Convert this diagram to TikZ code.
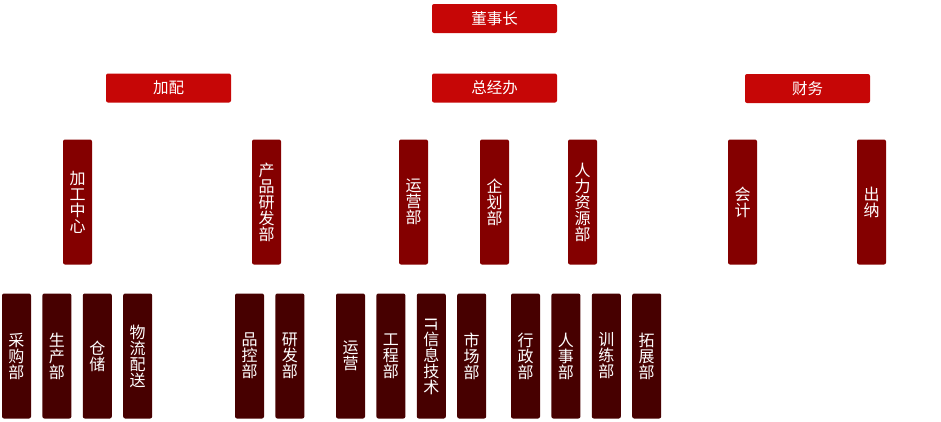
\documentclass[tikz,border=0pt]{standalone}
\usepackage{fontspec}
\setmainfont{Noto Sans CJK SC}
\usetikzlibrary{positioning}
\definecolor{TopRed}{HTML}{C60606}
\definecolor{MidRed}{HTML}{840000}
\definecolor{LowRed}{HTML}{470000}
\tikzset{
  topbox/.style={fill=TopRed,rounded corners=2pt,minimum width=125pt,minimum height=29pt,inner sep=0pt,text=white,font=\fontsize{15.5}{16}\selectfont},
  midbox/.style={fill=MidRed,rounded corners=2pt,minimum width=29pt,minimum height=125pt,inner sep=0pt,text=white,align=center,font=\fontsize{16}{16}\selectfont},
  lowbox/.style={midbox,fill=LowRed},
}
\begin{document}
\begin{tikzpicture}[x=1pt,y=-1pt,node distance=11pt]
 \useasboundingbox (0,0) rectangle (941,421);
 % top rows
 \node[topbox] (dsz) at (494.5,18.5) {董事长};
 \node[topbox] (jp) at (168.5,88) {加配};
 \node[topbox] (zjb) at (494.5,88) {总经办};
 \node[topbox] (cw) at (807.5,88.5) {财务};
 % departments
 \node[midbox] (jgzx) at (77.5,202) {加\\工\\中\\心};
 \node[midbox] (cpyf) at (266.5,202) {产\\品\\研\\发\\部};
 \node[midbox] (yyb) at (413.5,202) {运\\营\\部};
 \node[midbox] (qhb) at (494.5,202) {企\\划\\部};
 \node[midbox] (rlzy) at (582.5,202) {人\\力\\资\\源\\部};
 \node[midbox] (kj) at (742.5,202) {会\\计};
 \node[midbox] (cn) at (871.5,202) {出\\纳};
 % sections
 \node[lowbox] (cgb) at (16.5,356) {采\\购\\部};
 \node[lowbox,right=of cgb] (scb) {生\\产\\部};
 \node[lowbox,right=of scb] (cc) {仓\\储};
 \node[lowbox,right=of cc] (wlps) {物\\流\\配\\送};
 \node[lowbox] (pkb) at (249.5,356) {品\\控\\部};
 \node[lowbox,right=of pkb] (yfb) {研\\发\\部};
 \node[lowbox] (yy) at (350.5,356) {运\\营};
 \node[lowbox,right=of yy] (gcb) {工\\程\\部};
 \node[lowbox,right=of gcb] (it) {\rotatebox{-90}{IT}\\信\\息\\技\\术};
 \node[lowbox,right=of it] (scbu) {市\\场\\部};
 \node[lowbox] (xzb) at (525.5,356) {行\\政\\部};
 \node[lowbox,right=of xzb] (rsb) {人\\事\\部};
 \node[lowbox,right=of rsb] (xlb) {训\\练\\部};
 \node[lowbox,right=of xlb] (tzb) {拓\\展\\部};
\end{tikzpicture}
\end{document}
